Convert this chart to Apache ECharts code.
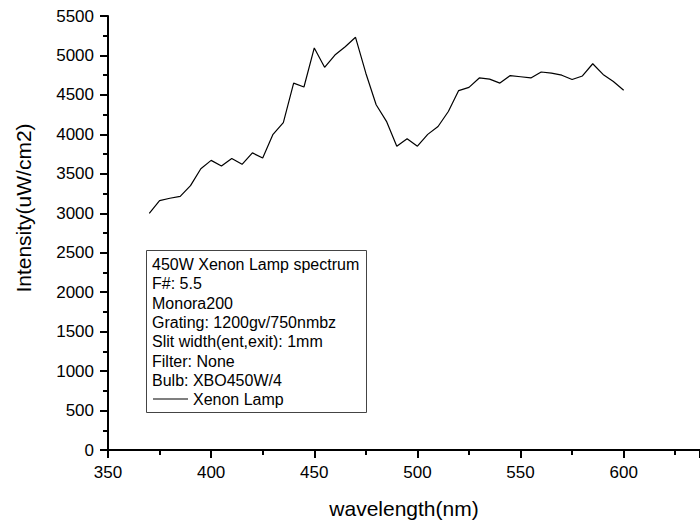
<!DOCTYPE html>
<html>
<head>
<meta charset="utf-8">
<title>Xenon Lamp spectrum</title>
<script src="https://cdn.jsdelivr.net/npm/echarts@6/dist/echarts.min.js"></script>
<style>
  html, body { margin: 0; padding: 0; background: #fff; }
  #chart { width: 700px; height: 524px; }
</style>
</head>
<body>
<div id="chart"></div>
<script>
// wavelength (nm)
const wavelength = [370, 375, 380, 385, 390, 395, 400, 405, 410, 415, 420, 425, 430, 435, 440, 445,
  450, 455, 460, 465, 470, 475, 480, 485, 490, 495, 500, 505, 510, 515, 520, 525, 530, 535, 540,
  545, 550, 555, 560, 565, 570, 575, 580, 585, 590, 595, 600];
// intensity (uW/cm2)
const intensity = [3000, 3160, 3190, 3215, 3350, 3565, 3670, 3600, 3695, 3620, 3765, 3700, 4000, 4150,
  4650, 4600, 5095, 4850, 5005, 5110, 5230, 4775, 4375, 4165, 3850, 3945, 3850, 4000, 4100, 4290,
  4555, 4595, 4715, 4700, 4650, 4745, 4730, 4715, 4790, 4775, 4750, 4695, 4740, 4895, 4760, 4670, 4560];
// text of the note box
const noteLines = [
  '450W Xenon Lamp spectrum',
  'F#: 5.5',
  'Monora200',
  'Grating: 1200gv/750nmbz',
  'Slit width(ent,exit): 1mm',
  'Filter: None',
  'Bulb: XBO450W/4'
];
const seriesName = 'Xenon Lamp';

const font = 'Liberation Sans, Arial, sans-serif';

let myChart = echarts.init(document.getElementById('chart'), null, { renderer: 'svg' });

let option = {
  animation: false,
  backgroundColor: '#fff',
  // plot runs past the right edge, like the cropped original
  grid: { left: 108, right: -30, top: 16, bottom: 71 },
  legend: {
    data: [{ name: seriesName, icon: 'rect' }],
    left: 153,
    top: 391,
    padding: 0,
    itemWidth: 35,
    itemHeight: 1,
    itemGap: 5,
    itemStyle: { color: '#000' },
    textStyle: { fontFamily: font, fontSize: 16, color: '#000', lineHeight: 14 }
  },
  xAxis: {
    type: 'value',
    min: 350,
    max: 637,
    interval: 50,
    name: 'wavelength(nm)',
    nameLocation: 'middle',
    nameGap: 48,
    nameTextStyle: { fontFamily: font, fontSize: 21, color: '#000' },
    axisLine: { onZero: false, lineStyle: { color: '#000', width: 2 } },
    axisTick: { length: 8, lineStyle: { color: '#000', width: 2 } },
    minorTick: { show: true, splitNumber: 2, length: 5, lineStyle: { color: '#000', width: 2 } },
    axisLabel: {
      margin: 14, fontFamily: font, fontSize: 17, color: '#000',
      showMaxLabel: false,
      formatter: v => String(v)
    },
    splitLine: { show: false }
  },
  yAxis: {
    type: 'value',
    min: 0,
    max: 5500,
    interval: 500,
    name: 'Intensity(uW/cm2)',
    nameLocation: 'middle',
    nameGap: 74,
    // title sits a bit above the axis centre in the original
    nameTextStyle: { fontFamily: font, fontSize: 21, color: '#000', padding: [0, 0, 0, 50] },
    axisLine: { show: true, onZero: false, lineStyle: { color: '#000', width: 2 } },
    axisTick: { show: true, length: 8, lineStyle: { color: '#000', width: 2 } },
    minorTick: { show: true, splitNumber: 2, length: 5, lineStyle: { color: '#000', width: 2 } },
    axisLabel: {
      margin: 14, fontFamily: font, fontSize: 17, color: '#000',
      formatter: v => String(v)
    },
    splitLine: { show: false }
  },
  graphic: [
    {
      type: 'rect',
      left: 146,
      top: 250,
      z: 0,
      shape: { width: 220, height: 162 },
      style: { fill: '#fff', stroke: '#444', lineWidth: 1 }
    },
    {
      type: 'text',
      left: 152,
      top: 255,
      z: 1,
      style: {
        text: noteLines.join('\n'),
        font: '16px ' + font,
        lineHeight: 19.3,
        fill: '#000'
      }
    }
  ],
  series: [
    {
      name: seriesName,
      type: 'line',
      data: wavelength.map((w, i) => [w, intensity[i]]),
      symbol: 'none',
      lineStyle: { color: '#000', width: 1.2 },
      itemStyle: { color: '#000' },
      z: 3
    }
  ]
};

myChart.setOption(option);
</script>
</body>
</html>
